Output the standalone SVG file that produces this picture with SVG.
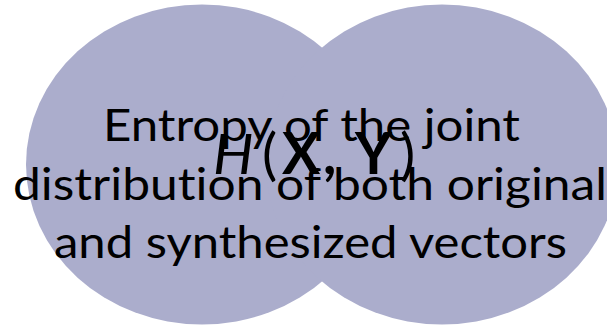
<svg xmlns="http://www.w3.org/2000/svg" width="607" height="326" viewBox="0 0 607 326">
<style>
.set{fill:#ABADCC;stroke:none}
.lbl{font-family:Lato,"Open Sans","Liberation Sans",sans-serif;font-size:44px;fill:#000;font-variant-ligatures:none}
.sym{font-family:Lato,"Open Sans","Liberation Sans",sans-serif;font-size:57px;fill:#000;font-variant-ligatures:none}
</style>
<rect width="607" height="326" fill="#fff"/>
<g id="set-x"><ellipse class="set" cx="202" cy="164.5" rx="176" ry="160"/></g>
<g id="set-y"><ellipse class="set" cx="442" cy="164.5" rx="176" ry="160"/></g>
<g id="joint-label">
<text class="lbl" x="103" y="141" textLength="417" lengthAdjust="spacingAndGlyphs">Entropy of the joint</text>
<text class="lbl" x="13" y="199.5" textLength="594" lengthAdjust="spacingAndGlyphs">distribution of both original</text>
<text class="lbl" x="54" y="258" textLength="513" lengthAdjust="spacingAndGlyphs">and synthesized vectors</text>
</g>
<g id="joint-symbol">
<text class="sym" y="174"><tspan x="213" font-style="italic">H</tspan><tspan x="262">(</tspan><tspan x="282" font-weight="bold">X</tspan><tspan x="323" font-weight="bold">,</tspan><tspan x="355" font-weight="bold">Y</tspan><tspan x="400">)</tspan></text>
</g>
</svg>
